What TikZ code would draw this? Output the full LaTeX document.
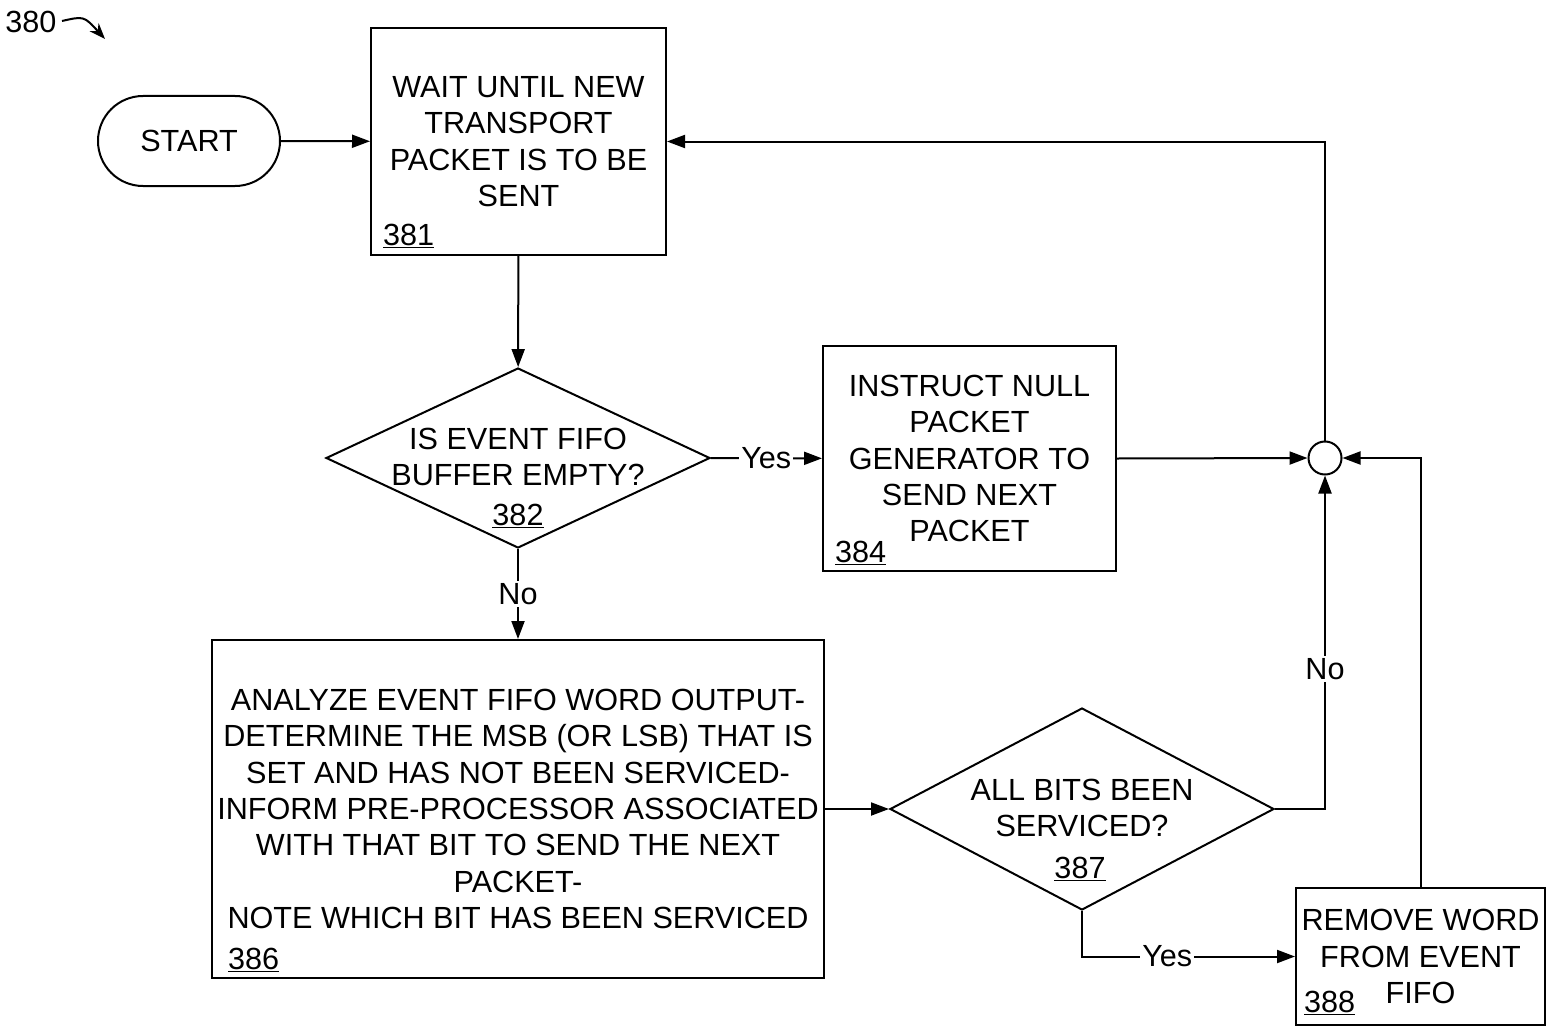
\documentclass[tikz,border=0pt]{standalone}
\usepackage{fontspec}
\setmainfont{Liberation Sans}
\usetikzlibrary{arrows.meta,shapes.geometric}
\newcommand\fz{\fontsize{30.6}{36.4}\selectfont}
\tikzset{
 box/.style={draw, line width=2pt, rectangle, align=center, inner sep=0pt, font=\fz},
 dia/.style={draw, diamond, line width=2pt, inner sep=0pt},
 txt/.style={align=center, font=\fz, inner sep=0pt},
 num/.style={font=\fz, inner sep=0pt},
 conn/.style={line width=2pt, -{Triangle[length=18pt,width=13pt]}},
 lab/.style={fill=white, font=\fz, inner sep=2pt},
}
\begin{document}
\begin{tikzpicture}[x=1pt,y=-1pt]
\useasboundingbox (0,0) rectangle (1554,1030);
% reference
\node[num] (ref) at (31,22) {380};
\coordinate (refstart) at (62,21);
\coordinate (refend) at (105,39);
\draw[line width=2pt, -{Stealth[length=16pt,width=12pt]}] (refstart) .. controls (84,16) .. (refend);
% nodes
\node[box, rounded corners=45pt, minimum width=182pt, minimum height=90pt] (start) at (189,141) {START};
\node[box, minimum width=295pt, minimum height=227pt] (b381) at (518.5,141.5) {WAIT UNTIL NEW\\TRANSPORT\\PACKET IS TO BE\\SENT};
\node[num, anchor=base west] at (383,245) {\underline{381}};
\node[dia, minimum width=384pt, minimum height=180pt] (d382) at (518,458) {};
\node[txt] at (518,457) {IS EVENT FIFO\\BUFFER EMPTY?};
\node[num, anchor=base] at (518,525) {\underline{382}};
\node[box, minimum width=293pt, minimum height=225pt] (b384) at (969.5,458.5) {INSTRUCT NULL\\PACKET\\GENERATOR TO\\SEND NEXT\\PACKET};
\node[num, anchor=base west] at (835,562) {\underline{384}};
\node[draw, circle, line width=2pt, minimum size=33pt, inner sep=0pt] (jn) at (1325,458) {};
\node[box, minimum width=612pt, minimum height=338pt] (b386) at (518,809) {ANALYZE EVENT FIFO WORD OUTPUT-\\DETERMINE THE MSB (OR LSB) THAT IS\\SET AND HAS NOT BEEN SERVICED-\\INFORM PRE-PROCESSOR ASSOCIATED\\WITH THAT BIT TO SEND THE NEXT\\PACKET-\\NOTE WHICH BIT HAS BEEN SERVICED};
\node[num, anchor=base west] at (228,969) {\underline{386}};
\node[dia, minimum width=384pt, minimum height=202pt] (d387) at (1082,809) {};
\node[txt] at (1082,808) {ALL BITS BEEN\\SERVICED?};
\node[num, anchor=base] at (1080,878) {\underline{387}};
\node[box, minimum width=249pt, minimum height=137pt] (b388) at (1420.5,956.5) {REMOVE WORD\\FROM EVENT\\FIFO};
\node[num, anchor=base west] at (1304,1012) {\underline{388}};
% connectors
\draw[conn] (start) -- (b381);
\draw[conn] (b381) -- (d382);
\draw[conn] (d382) -- node[lab]{Yes} (b384);
\draw[conn] (b384.east) -- (jn.west);
\draw[conn] (jn.north) |- (b381.east);
\draw[conn] (d382) -- node[lab]{No} (b386);
\draw[conn] (b386) -- (d387);
\draw[conn] (d387.east) -| node[lab, pos=0.71]{No} (jn.south);
\draw[conn] (d387.south) |- node[lab, pos=0.70]{Yes} (b388.west);
\draw[conn] (b388.north) |- (jn.east);
\end{tikzpicture}
\end{document}
